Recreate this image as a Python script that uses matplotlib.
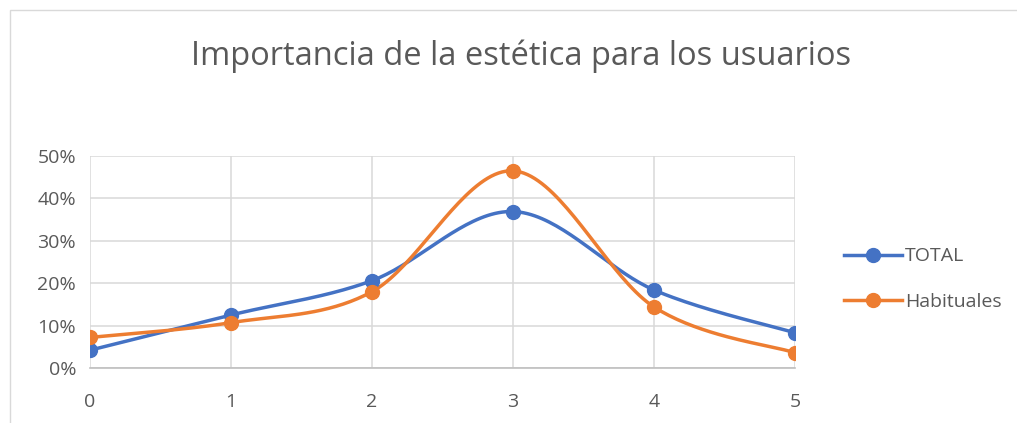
import numpy as np
import matplotlib
matplotlib.use("Agg")
import matplotlib.pyplot as plt
from matplotlib.patches import Rectangle

categories = [0, 1, 2, 3, 4, 5]
total = [4.2, 12.5, 20.6, 36.9, 18.4, 8.3]
habituales = [7.2, 10.7, 18.0, 46.5, 14.4, 3.6]
yticks = [0, 10, 20, 30, 40, 50]
title = "Importancia de la estética para los usuarios"

plt.rcParams['font.family'] = ['Open Sans', 'DejaVu Sans']

def smooth(x, y, n=40):
    x = np.asarray(x, float); y = np.asarray(y, float)
    px = np.concatenate([[x[0]], x, [x[-1]]])
    py = np.concatenate([[y[0]], y, [y[-1]]])
    xs, ys = [], []
    t = np.linspace(0, 1, n)
    for i in range(1, len(px) - 2):
        p0 = np.array([px[i], py[i]]); p3 = np.array([px[i+1], py[i+1]])
        p1 = p0 + (np.array([px[i+1], py[i+1]]) - np.array([px[i-1], py[i-1]])) / 6
        p2 = p3 - (np.array([px[i+2], py[i+2]]) - np.array([px[i], py[i]])) / 6
        b = ((1-t)**3)[:, None]*p0 + (3*(1-t)**2*t)[:, None]*p1 + (3*(1-t)*t**2)[:, None]*p2 + (t**3)[:, None]*p3
        xs.extend(b[:, 0]); ys.extend(b[:, 1])
    return np.array(xs), np.array(ys)

fig = plt.figure(figsize=(10.17, 4.23), dpi=100)
fig.patches.append(Rectangle((10/1017, -0.01), 1.1, 1 - 10/423 + 0.01, transform=fig.transFigure,
                             fill=False, edgecolor='#D9D9D9', lw=1))
ax = fig.add_axes([90/1017, 1 - 368/423, 705/1017, 212/423])

blue = '#4472C4'; orange = '#ED7D31'
for data, col, lab in [(total, blue, 'TOTAL'), (habituales, orange, 'Habituales')]:
    sx, sy = smooth(categories, data)
    ax.plot(sx, sy, color=col, lw=2.5, solid_capstyle='round', zorder=3)
    ax.plot(categories, data, 'o', color=col, ms=10, zorder=4)
    ax.plot([], [], '-o', color=col, lw=2.5, ms=10, label=lab)

ax.set_xlim(categories[0], categories[-1])
ax.set_ylim(yticks[0], yticks[-1])
ax.set_xticks(categories)
ax.set_yticks(yticks)
ax.set_yticklabels([f"{v}%" for v in yticks])
ax.grid(True, color='#D9D9D9', lw=1.1)
ax.set_axisbelow(True)
for s in ['top', 'right', 'left']:
    ax.spines[s].set_visible(False)
ax.spines['bottom'].set_color('#BFBFBF')
ax.spines['bottom'].set_linewidth(1.2)
ax.tick_params(axis='both', length=0, labelsize=14, colors='#595959')
ax.tick_params(axis='x', pad=18)
ax.tick_params(axis='y', pad=10)
for lbl in ax.get_xticklabels() + ax.get_yticklabels():
    lbl.set_color('#595959')

fig.text(521/1017, 1 - 56/423, title, ha='center', va='center', fontsize=23.5, color='#595959')

leg = ax.legend(loc='center left', bbox_to_anchor=(826/1017, 1 - 279/423), bbox_transform=fig.transFigure,
                frameon=False, fontsize=14, handlelength=3.0, handletextpad=0.15, labelspacing=1.4,
                labelcolor='#595959')

fig.savefig('out.png', dpi=100, facecolor='white')
